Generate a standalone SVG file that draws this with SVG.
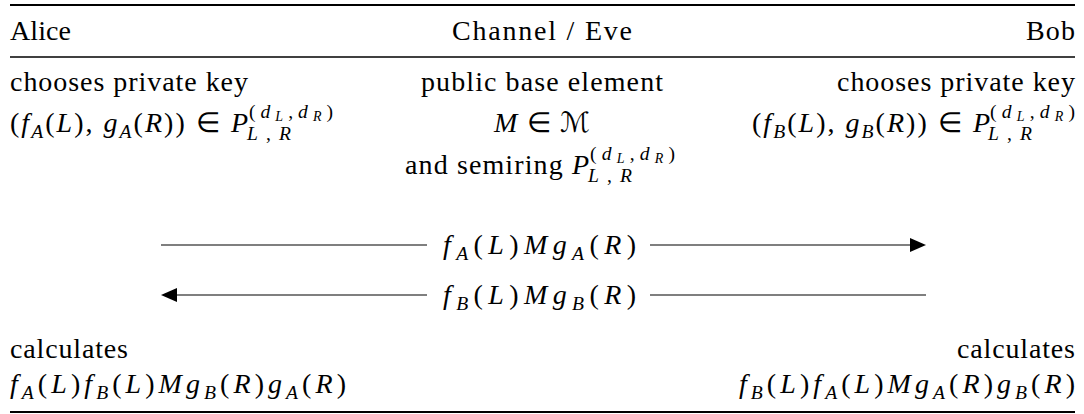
<svg xmlns="http://www.w3.org/2000/svg" width="1084" height="414" viewBox="0 0 1084 414">
  <defs>
    <style>
      .msg { stroke: #000; stroke-width: 1.2; fill: none; }
      .head { fill: #000; }
    </style>
  </defs>
  <rect width="1084" height="414" fill="#fff"/>
  <g id="table-rules" stroke="#000">
    <line x1="10" y1="5" x2="1075" y2="5" stroke-width="2.2"/>
    <line x1="10" y1="57" x2="1075" y2="57" stroke-width="1.4"/>
    <line x1="10" y1="412" x2="1075" y2="412" stroke-width="2.2"/>
  </g>
  <g id="node-alice">
    <text font-family="Liberation Serif" font-size="28" x="10" y="40" textLength="61" lengthAdjust="spacing">Alice</text>
    <text font-family="Liberation Serif" font-size="28" x="10" y="91" textLength="238" lengthAdjust="spacing">chooses private key</text>
    <text font-family="Liberation Serif" font-size="28" x="10" y="132" textLength="238" lengthAdjust="spacing">(<tspan font-style="italic">f</tspan><tspan font-style="italic" font-size="19.6" dy="6">A</tspan><tspan dy="-6">(</tspan><tspan font-style="italic">L</tspan>), <tspan font-style="italic">g</tspan><tspan font-style="italic" font-size="19.6" dy="6">A</tspan><tspan dy="-6">(</tspan><tspan font-style="italic">R</tspan>)) ∈ <tspan font-style="italic">P</tspan></text>
    <text font-family="Liberation Serif" font-size="19.6" x="249" y="118" textLength="84" lengthAdjust="spacing">(<tspan font-style="italic">d</tspan><tspan font-style="italic" font-size="14" dy="3">L</tspan><tspan dy="-3">,</tspan><tspan font-style="italic">d</tspan><tspan font-style="italic" font-size="14" dy="3">R</tspan><tspan dy="-3">)</tspan></text>
    <text font-family="Liberation Serif" font-size="19.6" x="247" y="140" textLength="44" lengthAdjust="spacing"><tspan font-style="italic">L</tspan>,<tspan font-style="italic">R</tspan></text>
    <text font-family="Liberation Serif" font-size="28" x="10" y="358" textLength="118" lengthAdjust="spacing">calculates</text>
    <text font-family="Liberation Serif" font-size="28" x="10" y="393" textLength="336" lengthAdjust="spacing"><tspan font-style="italic">f</tspan><tspan font-style="italic" font-size="19.6" dy="6">A</tspan><tspan dy="-6">(</tspan><tspan font-style="italic">L</tspan>)<tspan font-style="italic">f</tspan><tspan font-style="italic" font-size="19.6" dy="6">B</tspan><tspan dy="-6">(</tspan><tspan font-style="italic">L</tspan>)<tspan font-style="italic">Mg</tspan><tspan font-style="italic" font-size="19.6" dy="6">B</tspan><tspan dy="-6">(</tspan><tspan font-style="italic">R</tspan>)<tspan font-style="italic">g</tspan><tspan font-style="italic" font-size="19.6" dy="6">A</tspan><tspan dy="-6">(</tspan><tspan font-style="italic">R</tspan>)</text>
  </g>
  <g id="node-channel">
    <text font-family="Liberation Serif" font-size="28" x="452" y="40" textLength="180" lengthAdjust="spacing">Channel / Eve</text>
    <text font-family="Liberation Serif" font-size="28" x="421" y="91" textLength="242" lengthAdjust="spacing">public base element</text>
    <text font-family="Liberation Serif" font-size="28" x="494" y="132" textLength="96" lengthAdjust="spacing"><tspan font-style="italic">M</tspan> ∈ ℳ</text>
    <text font-family="Liberation Serif" font-size="28" x="405" y="174" textLength="184" lengthAdjust="spacing">and semiring <tspan font-style="italic">P</tspan></text>
    <text font-family="Liberation Serif" font-size="19.6" x="590" y="160" textLength="85" lengthAdjust="spacing">(<tspan font-style="italic">d</tspan><tspan font-style="italic" font-size="14" dy="3">L</tspan><tspan dy="-3">,</tspan><tspan font-style="italic">d</tspan><tspan font-style="italic" font-size="14" dy="3">R</tspan><tspan dy="-3">)</tspan></text>
    <text font-family="Liberation Serif" font-size="19.6" x="588" y="182" textLength="44" lengthAdjust="spacing"><tspan font-style="italic">L</tspan>,<tspan font-style="italic">R</tspan></text>
  </g>
  <g id="node-bob">
    <text font-family="Liberation Serif" font-size="28" x="1026" y="40" textLength="49" lengthAdjust="spacing">Bob</text>
    <text font-family="Liberation Serif" font-size="28" x="837" y="91" textLength="238" lengthAdjust="spacing">chooses private key</text>
    <text font-family="Liberation Serif" font-size="28" x="752" y="132" textLength="238" lengthAdjust="spacing">(<tspan font-style="italic">f</tspan><tspan font-style="italic" font-size="19.6" dy="6">B</tspan><tspan dy="-6">(</tspan><tspan font-style="italic">L</tspan>), <tspan font-style="italic">g</tspan><tspan font-style="italic" font-size="19.6" dy="6">B</tspan><tspan dy="-6">(</tspan><tspan font-style="italic">R</tspan>)) ∈ <tspan font-style="italic">P</tspan></text>
    <text font-family="Liberation Serif" font-size="19.6" x="990" y="118" textLength="85" lengthAdjust="spacing">(<tspan font-style="italic">d</tspan><tspan font-style="italic" font-size="14" dy="3">L</tspan><tspan dy="-3">,</tspan><tspan font-style="italic">d</tspan><tspan font-style="italic" font-size="14" dy="3">R</tspan><tspan dy="-3">)</tspan></text>
    <text font-family="Liberation Serif" font-size="19.6" x="988" y="140" textLength="44" lengthAdjust="spacing"><tspan font-style="italic">L</tspan>,<tspan font-style="italic">R</tspan></text>
    <text font-family="Liberation Serif" font-size="28" x="957" y="358" textLength="118" lengthAdjust="spacing">calculates</text>
    <text font-family="Liberation Serif" font-size="28" x="739" y="393" textLength="336" lengthAdjust="spacing"><tspan font-style="italic">f</tspan><tspan font-style="italic" font-size="19.6" dy="6">B</tspan><tspan dy="-6">(</tspan><tspan font-style="italic">L</tspan>)<tspan font-style="italic">f</tspan><tspan font-style="italic" font-size="19.6" dy="6">A</tspan><tspan dy="-6">(</tspan><tspan font-style="italic">L</tspan>)<tspan font-style="italic">Mg</tspan><tspan font-style="italic" font-size="19.6" dy="6">A</tspan><tspan dy="-6">(</tspan><tspan font-style="italic">R</tspan>)<tspan font-style="italic">g</tspan><tspan font-style="italic" font-size="19.6" dy="6">B</tspan><tspan dy="-6">(</tspan><tspan font-style="italic">R</tspan>)</text>
  </g>
  <g id="connectors">
    <line class="msg" x1="161" y1="245" x2="427" y2="245"/>
    <line class="msg" x1="650" y1="245" x2="912" y2="245"/>
    <polygon class="head" points="910,238 926,245 910,252"/>
    <text font-family="Liberation Serif" font-size="28" x="443" y="254" textLength="193" lengthAdjust="spacing"><tspan font-style="italic">f</tspan><tspan font-style="italic" font-size="19.6" dy="6">A</tspan><tspan dy="-6">(</tspan><tspan font-style="italic">L</tspan>)<tspan font-style="italic">Mg</tspan><tspan font-style="italic" font-size="19.6" dy="6">A</tspan><tspan dy="-6">(</tspan><tspan font-style="italic">R</tspan>)</text>
    <line class="msg" x1="175" y1="295" x2="427" y2="295"/>
    <polygon class="head" points="177,288 161,295 177,302"/>
    <line class="msg" x1="650" y1="295" x2="926" y2="295"/>
    <text font-family="Liberation Serif" font-size="28" x="443" y="304" textLength="193" lengthAdjust="spacing"><tspan font-style="italic">f</tspan><tspan font-style="italic" font-size="19.6" dy="6">B</tspan><tspan dy="-6">(</tspan><tspan font-style="italic">L</tspan>)<tspan font-style="italic">Mg</tspan><tspan font-style="italic" font-size="19.6" dy="6">B</tspan><tspan dy="-6">(</tspan><tspan font-style="italic">R</tspan>)</text>
  </g>
</svg>
